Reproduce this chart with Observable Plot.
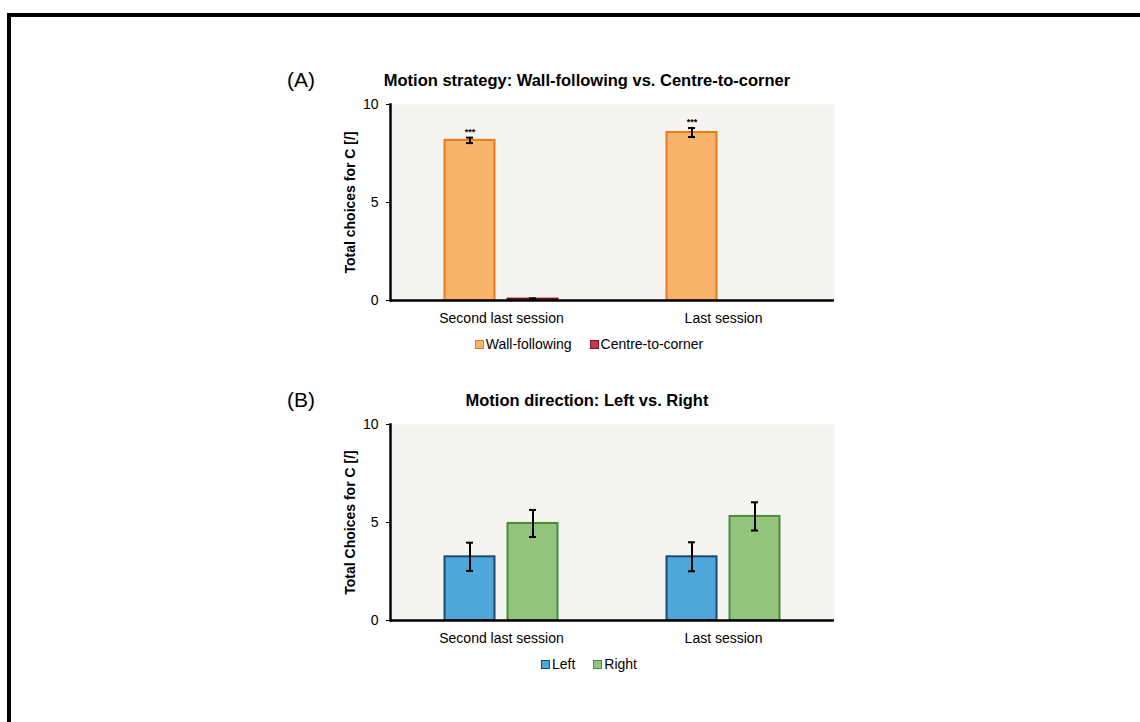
<!DOCTYPE html>
<html>
<head>
<meta charset="utf-8">
<script src="https://cdn.jsdelivr.net/npm/d3@7"></script>
<script src="https://cdn.jsdelivr.net/npm/@observablehq/plot@0.6"></script>
<style>
  html, body { margin: 0; padding: 0; background: #fff; }
  #page { position: relative; width: 1140px; height: 722px; overflow: hidden; font-family: "Liberation Sans", Arial, sans-serif; color: #000; }
  #edge { position: absolute; left: 7px; top: 13px; width: 1300px; height: 900px; border-top: 4px solid #000; border-left: 4px solid #000; box-sizing: border-box; }
  .tag { position: absolute; left: 287px; font-size: 21px; line-height: 24px; }
  .title { position: absolute; left: 187px; width: 800px; text-align: center; font-size: 16.5px; font-weight: bold; line-height: 20px; }
  .chart { position: absolute; left: 0; }
  .legend { position: absolute; left: 189px; width: 800px; display: flex; justify-content: center; gap: 18px; font-size: 14px; line-height: 16px; }
  .legend span.item { display: flex; align-items: center; gap: 2px; }
  .legend span.sw { display: inline-block; width: 7px; height: 7px; border: 1.5px solid; }
  svg [aria-label="y-axis label"] { font-weight: bold; font-size: 14px; }
</style>
</head>
<body>
<div id="page"><div id="edge"></div></div>
<script>
// Sessions shown on the x axis
const sessions = ["Second last session", "Last session"];
const yTicks = [0, 5, 10];

// Panel A: motion strategy (mean and error per series, one value per session)
const strategySeries = ["Wall-following", "Centre-to-corner"];
const strategyMean = [[8.17, 8.57], [0.07, 0]];
const strategyErr = [[0.14, 0.23], [0.04, 0]];
const strategySig = [["***", "***"], ["", ""]];
const strategyFill = ["#f9b46c", "#c23a4c"];
const strategyStroke = ["#e67a1a", "#7c1022"];

// Panel B: motion direction
const directionSeries = ["Left", "Right"];
const directionMean = [[3.25, 3.25], [4.95, 5.31]];
const directionErr = [[0.72, 0.74], [0.69, 0.72]];
const directionSig = [["", ""], ["", ""]];
const directionFill = ["#4fa6db", "#93c47d"];
const directionStroke = ["#1d4a70", "#4e8a3a"];

const page = document.getElementById("page");
const bg = "#f5f4f0";

function addDiv(cls, text, top) {
  const d = document.createElement("div");
  d.className = cls;
  d.textContent = text;
  d.style.top = top + "px";
  page.appendChild(d);
  return d;
}

function panel({tag, title, ylabel, series, means, errs, sig, fills, strokes, top}) {
  addDiv("tag", tag, top - 36);
  addDiv("title", title, top - 34);

  const rows = [];
  series.forEach((s, i) => sessions.forEach((sess, j) => {
    rows.push({series: s, i, session: sess, value: means[i][j], err: errs[i][j], sig: sig[i][j]});
  }));

  // band geometry: the bars of each session sit side by side, centred in the band
  const mLeft = 390, mRight = 306;
  const x0 = mLeft, x1 = 1140 - mRight;
  const bw = (x1 - x0) / sessions.length;
  const barW = 50, gap = 13;
  const offset = i => (i - (series.length - 1) / 2) * (barW + gap);

  const marks = [Plot.frame({fill: bg, stroke: "none"})];
  series.forEach((s, i) => {
    const d = rows.filter(r => r.i === i);
    const e = d.filter(r => r.err > 0);
    const c = offset(i);
    marks.push(
      Plot.barY(d, {x: "session", y: "value", fill: fills[i], stroke: strokes[i], strokeWidth: 2,
        insetLeft: bw / 2 + c - barW / 2, insetRight: bw / 2 - c - barW / 2}),
      Plot.ruleX(e, {x: "session", y1: r => r.value - r.err, y2: r => r.value + r.err,
        dx: c, stroke: "#000", strokeWidth: 2}),
      Plot.tickY(e, {x: "session", y: r => r.value - r.err, stroke: "#000", strokeWidth: 2,
        insetLeft: bw / 2 + c - 3.5, insetRight: bw / 2 - c - 3.5}),
      Plot.tickY(e, {x: "session", y: r => r.value + r.err, stroke: "#000", strokeWidth: 2,
        insetLeft: bw / 2 + c - 3.5, insetRight: bw / 2 - c - 3.5}),
      Plot.text(d.filter(r => r.sig), {x: "session", y: r => r.value + r.err, text: "sig", dx: c, dy: -6,
        fontSize: 9, fontWeight: "bold"})
    );
  });
  marks.push(
    Plot.ruleY([0], {stroke: "#000", strokeWidth: 2.5}),
    Plot.frame({anchor: "left", stroke: "#000", strokeWidth: 2.5}),
    Plot.axisY({ticks: yTicks, tickSize: 4, tickPadding: 8, tickFormat: d => d, label: ylabel,
      labelAnchor: "center", labelOffset: 45, labelArrow: "none"}),
    Plot.axisX({tickSize: 0, tickPadding: 13, label: null})
  );

  const chart = Plot.plot({
    width: 1140, height: 240,
    marginLeft: mLeft, marginRight: mRight, marginTop: 10, marginBottom: 34,
    style: {fontFamily: "'Liberation Sans', Arial, sans-serif", fontSize: "14px", background: "transparent", overflow: "visible", color: "#000"},
    x: {domain: sessions, range: [x0, x1], padding: 0, label: null},
    y: {domain: [0, 10], label: ylabel},
    marks
  });
  const wrap = document.createElement("div");
  wrap.className = "chart";
  wrap.style.top = (top - 10) + "px";
  wrap.appendChild(chart);
  page.appendChild(wrap);

  // legend
  const lg = addDiv("legend", "", top + 232);
  series.forEach((s, i) => {
    const it = document.createElement("span");
    it.className = "item";
    const sw = document.createElement("span");
    sw.className = "sw";
    sw.style.background = fills[i];
    sw.style.borderColor = strokes[i];
    it.appendChild(sw);
    it.appendChild(document.createTextNode(s));
    lg.appendChild(it);
  });
}

// `top` is the pixel row of the value 10 in each panel
panel({tag: "(A)", title: "Motion strategy: Wall-following vs. Centre-to-corner", ylabel: "Total choices for C [/]",
  series: strategySeries, means: strategyMean, errs: strategyErr, sig: strategySig,
  fills: strategyFill, strokes: strategyStroke, top: 104});
panel({tag: "(B)", title: "Motion direction: Left vs. Right", ylabel: "Total Choices for C [/]",
  series: directionSeries, means: directionMean, errs: directionErr, sig: directionSig,
  fills: directionFill, strokes: directionStroke, top: 424});
</script>
</body>
</html>
